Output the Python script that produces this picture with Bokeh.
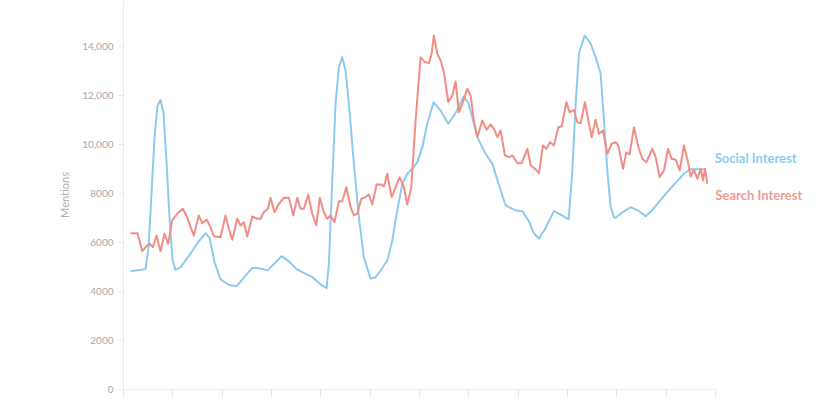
from bokeh.plotting import figure
from bokeh.models import Range1d, Label, FixedTicker
from bokeh.embed import file_html
from bokeh.resources import INLINE

# ---- data (x in axis-tick units, values = mentions) ----
social_x = [0.142, 0.446, 0.507, 0.568, 0.628, 0.689, 0.750, 0.811, 0.872, 0.933,
            0.993, 1.054, 1.155, 1.358, 1.520, 1.662, 1.743, 1.845, 1.966, 2.129,
            2.291, 2.453, 2.615, 2.777, 2.919, 3.061, 3.203, 3.345, 3.507, 3.669,
            3.831, 3.993, 4.115, 4.162, 4.231, 4.298, 4.365, 4.433, 4.500, 4.567,
            4.669, 4.770, 4.871, 5.007, 5.108, 5.210, 5.346, 5.447, 5.548, 5.650,
            5.751, 5.852, 5.954, 6.055, 6.156, 6.284, 6.426, 6.582, 6.730, 6.892,
            6.994, 7.170, 7.318, 7.474, 7.602, 7.744, 7.946, 8.082, 8.210, 8.311,
            8.419, 8.555, 8.723, 8.859, 9.021, 9.096, 9.163, 9.230, 9.345, 9.467,
            9.568, 9.670, 9.737, 9.805, 9.872, 9.939, 9.974, 10.116, 10.278, 10.440,
            10.582, 10.724, 10.886, 11.048, 11.210, 11.372, 11.493, 11.798]
social_y = [4830, 4920, 5800, 8000, 10300, 11600, 11840, 11300, 9300, 7000,
            5300, 4890, 5000, 5550, 6050, 6380, 6200, 5200, 4500, 4280,
            4220, 4600, 4980, 4950, 4870, 5150, 5450, 5250, 4920, 4750,
            4590, 4300, 4140, 5150, 8544, 11700, 13175, 13585, 13040, 11680,
            9227, 7044, 5410, 4525, 4590, 4865, 5274, 6090, 7318, 8409,
            8817, 9022, 9293, 9905, 10862, 11745, 11400, 10860, 11300, 11980,
            11700, 10314, 9700, 9227, 8400, 7520, 7320, 7290, 6900, 6400,
            6160, 6600, 7290, 7150, 6950, 8953, 11680, 13723, 14472, 14132,
            13585, 12906, 10997, 8953, 7452, 7044, 7020, 7250, 7450, 7300,
            7085, 7350, 7750, 8135, 8500, 8850, 9000, 9000]

search_x = [0.142, 0.284, 0.379, 0.480, 0.533, 0.594, 0.669, 0.750, 0.831, 0.906,
            0.987, 1.089, 1.202, 1.291, 1.358, 1.425, 1.526, 1.595, 1.683, 1.749,
            1.831, 1.966, 2.068, 2.135, 2.204, 2.305, 2.372, 2.439, 2.508, 2.609,
            2.710, 2.777, 2.844, 2.925, 2.980, 3.061, 3.148, 3.250, 3.351, 3.440,
            3.521, 3.588, 3.655, 3.744, 3.825, 3.906, 3.979, 4.060, 4.129, 4.196,
            4.277, 4.364, 4.433, 4.515, 4.602, 4.669, 4.737, 4.819, 4.906, 4.973,
            5.042, 5.129, 5.210, 5.277, 5.346, 5.433, 5.514, 5.595, 5.682, 5.751,
            5.832, 5.919, 6.021, 6.108, 6.189, 6.244, 6.290, 6.359, 6.426, 6.493,
            6.582, 6.663, 6.730, 6.797, 6.878, 6.967, 7.034, 7.101, 7.170, 7.271,
            7.359, 7.440, 7.507, 7.576, 7.642, 7.730, 7.811, 7.886, 7.981, 8.068,
            8.184, 8.251, 8.338, 8.419, 8.500, 8.569, 8.642, 8.723, 8.812, 8.879,
            8.974, 9.041, 9.128, 9.197, 9.264, 9.351, 9.420, 9.487, 9.568, 9.635,
            9.716, 9.805, 9.893, 9.974, 10.028, 10.122, 10.191, 10.257, 10.344, 10.434,
            10.515, 10.596, 10.717, 10.784, 10.865, 10.953, 11.034, 11.109, 11.190, 11.271,
            11.358, 11.424, 11.493, 11.561, 11.630, 11.697, 11.743, 11.784, 11.832]
search_y = [6390, 6390, 5654, 5887, 5955, 5817, 6296, 5654, 6365, 5955,
            6909, 7182, 7387, 7044, 6635, 6296, 7114, 6799, 6950, 6704,
            6267, 6226, 7114, 6569, 6119, 6978, 6704, 6840, 6254, 7072,
            6978, 6978, 7248, 7387, 7837, 7248, 7591, 7837, 7837, 7114,
            7837, 7387, 7387, 7959, 7182, 6704, 7837, 7248, 6978, 7114,
            6840, 7698, 7698, 8270, 7452, 7114, 7182, 7796, 7864, 7971,
            7563, 8380, 8380, 8299, 8817, 7864, 8270, 8679, 8270, 7563,
            8270, 10997, 13585, 13380, 13340, 13723, 14472, 13723, 13450, 12971,
            11745, 12019, 12591, 11336, 11745, 12291, 12019, 10997, 10314, 10997,
            10617, 10833, 10657, 10314, 10588, 9566, 9497, 9566, 9251, 9251,
            9840, 9157, 9022, 8843, 9975, 9840, 10110, 9975, 10723, 10752,
            11745, 11336, 11434, 10927, 10886, 11745, 10997, 10314, 11025, 10453,
            10588, 9634, 10044, 10110, 9975, 9022, 9700, 9607, 10723, 9905,
            9430, 9293, 9840, 9497, 8679, 8953, 9840, 9430, 9390, 8953,
            9975, 9430, 8708, 8981, 8613, 9022, 8544, 9022, 8409]

x_ticks = list(range(13))
y_ticks = [0, 2000, 4000, 6000, 8000, 10000, 12000, 14000, 16000]
y_tick_labels = ["0", "2000", "4000", "6000", "8000", "10,000", "12,000", "14,000", "16,000"]

SOCIAL = "#8dcbee"
SEARCH = "#f28d85"
FONT = "Lato"

p = figure(width=840, height=400, output_backend="svg", toolbar_location=None,
           x_range=Range1d(0, 14.53), y_range=Range1d(0, 15900),
           min_border_left=123, min_border_right=0, min_border_top=0,
           min_border_bottom=11)
p.outline_line_color = None
p.background_fill_color = "white"
p.border_fill_color = "white"
p.xgrid.grid_line_color = None
p.ygrid.grid_line_color = None

p.line(social_x, social_y, line_color=SOCIAL, line_width=2, line_join="round")
p.line(search_x, search_y, line_color=SEARCH, line_width=2, line_join="round")

# y axis
p.yaxis.ticker = FixedTicker(ticks=y_ticks)
p.yaxis.major_label_overrides = {t: l for t, l in zip(y_ticks, y_tick_labels)}
p.yaxis.axis_label = "Mentions"
p.yaxis.axis_label_text_font = FONT
p.yaxis.axis_label_text_font_style = "normal"
p.yaxis.axis_label_text_font_size = "11px"
p.yaxis.axis_label_text_color = "#b0b0b0"
p.yaxis.axis_label_standoff = 8
p.yaxis.major_label_text_font = FONT
p.yaxis.major_label_text_font_size = "10px"
p.yaxis.major_label_text_color = "#a8a8a8"
p.yaxis.major_label_standoff = 5
p.yaxis.axis_line_color = "#ececec"
p.yaxis.major_tick_line_color = "#ececec"
p.yaxis.major_tick_out = 5
p.yaxis.major_tick_in = 0
p.yaxis.minor_tick_line_color = None

# x axis (labels fall outside the visible area in the reference)
p.xaxis.ticker = FixedTicker(ticks=x_ticks)
p.xaxis.bounds = (x_ticks[0], x_ticks[-1])
p.xaxis.major_label_overrides = {t: "" for t in x_ticks}
p.xaxis.major_label_text_font_size = "1px"
p.xaxis.major_label_standoff = 0
p.xaxis.axis_line_color = "#ececec"
p.xaxis.major_tick_line_color = "#e4e4e4"
p.xaxis.major_tick_out = 7
p.xaxis.major_tick_in = 0
p.xaxis.minor_tick_line_color = None

# series labels at the end of each line
p.add_layout(Label(x=social_x[-1], y=social_y[-1], x_offset=9, y_offset=11,
                   text="Social Interest", text_color=SOCIAL, text_font=FONT,
                   text_font_size="13px", text_font_style="bold",
                   text_baseline="middle"))
p.add_layout(Label(x=search_x[-1], y=search_y[-1], x_offset=8, y_offset=-11,
                   text="Search Interest", text_color=SEARCH, text_font=FONT,
                   text_font_size="13px", text_font_style="bold",
                   text_baseline="middle", text_alpha=0.9))

open("out.html", "w").write(file_html(p, INLINE))
